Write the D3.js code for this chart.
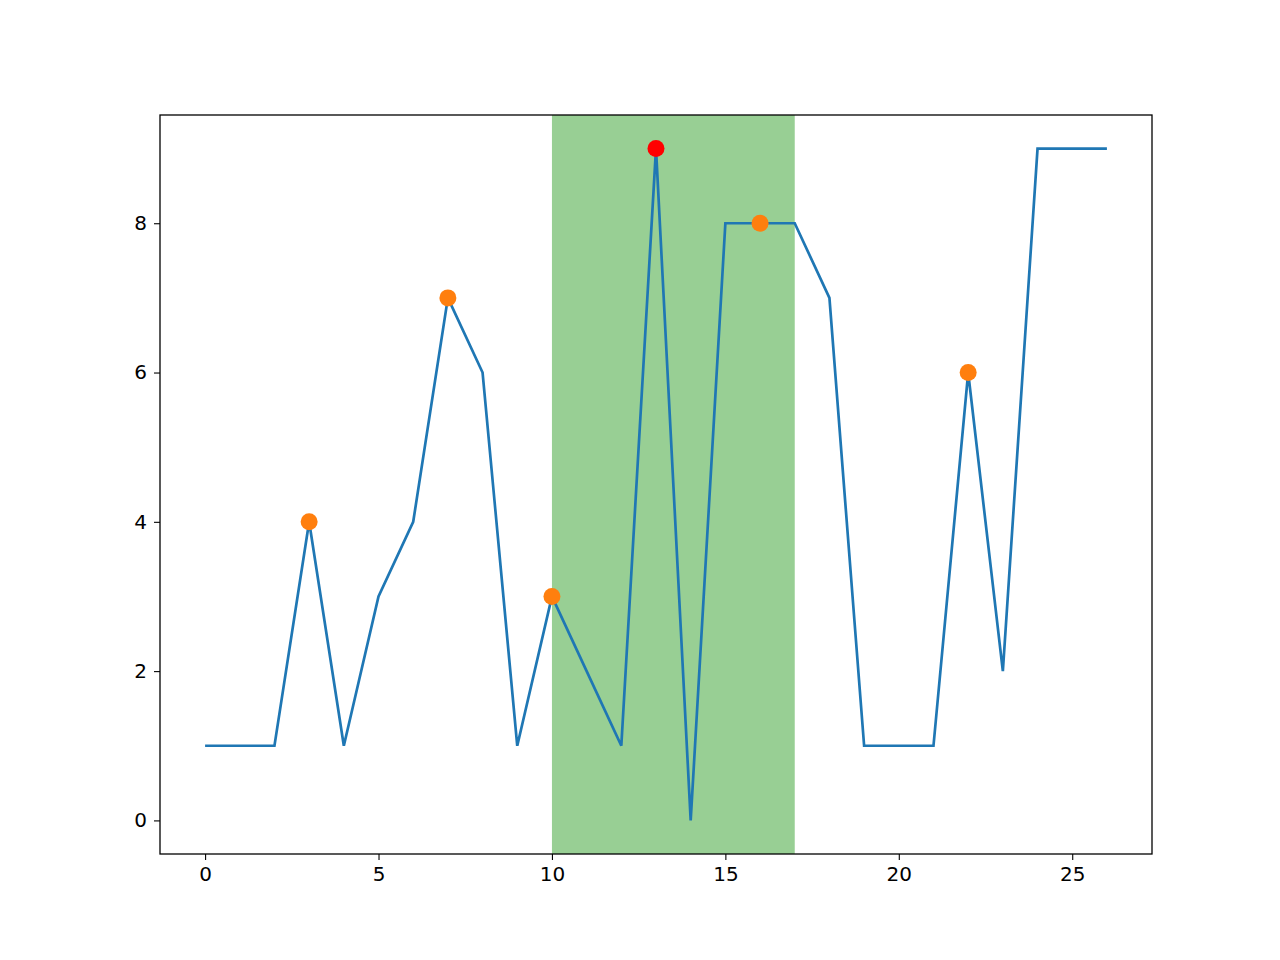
<!DOCTYPE html>
<html><head><meta charset="utf-8">
<script src="https://cdn.jsdelivr.net/npm/d3@7"></script>
<style>body{margin:0;background:#fff}</style>
</head><body>
<script>
const xs = d3.range(0, 27);
const ys = [1,1,1,4,1,3,4,7,6,1,3,2,1,9,0,8,8,8,7,1,1,1,6,2,9,9,9];
const orangePts = [3,7,10,16,22];
const redPts = [13];
const span = [10,17];
const xTicks = [0,5,10,15,20,25];
const yTicks = [0,2,4,6,8];

const W=1280,H=960, L=160,R=1152,T=115,B=854;
const svg=d3.select("body").append("svg").attr("width",W).attr("height",H);
const x=d3.scaleLinear().domain([-1.3,27.3]).range([L,R]);
const y=d3.scaleLinear().domain([-0.45,9.45]).range([B,T]);

svg.append("rect").attr("x",x(span[0])).attr("width",x(span[1])-x(span[0]))
  .attr("y",T).attr("height",B-T).attr("fill","#98cf94");

svg.append("path").datum(xs).attr("fill","none").attr("stroke","#1f77b4")
  .attr("stroke-width",2.7).attr("stroke-linejoin","miter")
  .attr("d",d3.line().x(d=>x(d)).y(d=>y(ys[d])));

svg.selectAll(".o").data(orangePts).enter().append("circle")
  .attr("cx",d=>x(d)).attr("cy",d=>y(ys[d])).attr("r",8.5).attr("fill","#ff7f0e");
svg.selectAll(".r").data(redPts).enter().append("circle")
  .attr("cx",d=>x(d)).attr("cy",d=>y(ys[d])).attr("r",8.5).attr("fill","#ff0000");

const fx=svg.append("g").attr("transform",`translate(0,${B})`)
  .call(d3.axisBottom(x).tickValues(xTicks).tickSize(6).tickPadding(7).tickFormat(d3.format("d")));
const fy=svg.append("g").attr("transform",`translate(${L},0)`)
  .call(d3.axisLeft(y).tickValues(yTicks).tickSize(6).tickPadding(7).tickFormat(d3.format("d")));
[fx,fy].forEach(g=>{
  g.select(".domain").remove();
  g.selectAll("text").attr("font-family","DejaVu Sans").attr("font-size",20).attr("fill","#000");
  g.selectAll("line").attr("stroke","#000").attr("stroke-width",1.1);
});
svg.append("rect").attr("x",L).attr("y",T).attr("width",R-L).attr("height",B-T)
  .attr("fill","none").attr("stroke","#000").attr("stroke-width",1.3);
</script>
</body></html>
